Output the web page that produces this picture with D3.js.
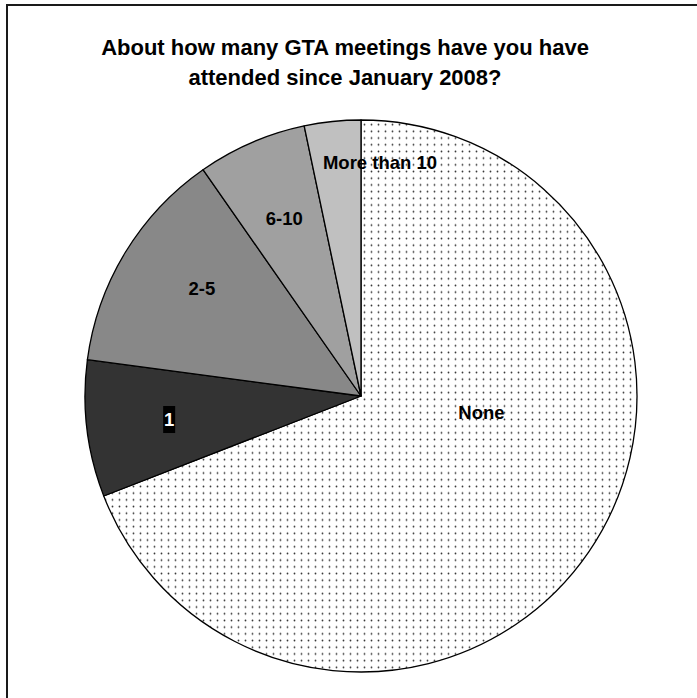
<!DOCTYPE html>
<html>
<head>
<meta charset="utf-8">
<script src="https://cdn.jsdelivr.net/npm/d3@7"></script>
<style>
  body { margin: 0; background: #fff; }
  text { font-family: "Liberation Sans", Arial, sans-serif; font-weight: bold; }
</style>
</head>
<body>
<div id="root"></div>
<script>
const width = 697;
const height = 698;

// data (percent of respondents)
const categories = ['None', '1', '2-5', '6-10', 'More than 10'];
const shares = [69.1, 8.0, 13.2, 6.4, 3.3];
const fills = ['url(#dots)', '#333333', '#888888', '#a0a0a0', '#c0c0c0'];
const titleLines = ['About how many GTA meetings have you have', 'attended since January 2008?'];

// layout
const cx = 361, cy = 396, radius = 276;
const labelRadius = radius * 0.7;
// labels Excel pushed away from the centroid (px offset from centroid)
const labelShift = { 'None': [-39, -93], 'More than 10': [39, -42], '2-5': [6, -7] };

const svg = d3.select("#root")
	.append("svg")
		.attr("width", width)
		.attr("height", height);

// dotted fill for the big slice
svg.append("defs")
	.append("pattern")
		.attr("id", "dots")
		.attr("patternUnits", "userSpaceOnUse")
		.attr("width", 7)
		.attr("height", 6.7)
	.call(p => {
		p.append("rect").attr("width", 7).attr("height", 6.7).attr("fill", "#fff");
		p.append("circle").attr("cx", 3.5).attr("cy", 3.3).attr("r", 0.9).attr("fill", "#333");
	});

// chart border (runs off the right and bottom edges)
svg.append("rect")
	.attr("x", 7)
	.attr("y", 5)
	.attr("width", width + 20)
	.attr("height", height + 20)
	.attr("fill", "none")
	.attr("stroke", "#1a1a1a")
	.attr("stroke-width", 2);

svg.append("text")
	.attr("text-anchor", "middle")
	.style("font-size", "22px")
	.style("fill", "#000")
	.selectAll("tspan")
	.data(titleLines).enter()
		.append("tspan")
		.attr("x", 345)
		.attr("y", (d, i) => 55 + i * 30)
		.text(d => d);

const data = categories.map((c, i) => ({ name: c, value: shares[i], fill: fills[i] }));

const pie = d3.pie()
	.sort(null)
	.value(d => d.value);

const arc = d3.arc()
	.innerRadius(0)
	.outerRadius(radius);

const labelArc = d3.arc()
	.innerRadius(labelRadius)
	.outerRadius(labelRadius);

const g = svg.append("g")
	.attr("transform", `translate(${cx}, ${cy})`);

const arcs = pie(data);

g.selectAll(".slice")
	.data(arcs).enter()
	.append("path")
		.attr("class", "slice")
		.attr("d", arc)
		.attr("fill", d => d.data.fill)
		.attr("stroke", "#000")
		.attr("stroke-width", 1.3)
		.attr("stroke-linejoin", "round");

const labels = g.selectAll(".label")
	.data(arcs).enter()
	.append("g")
		.attr("class", "label")
		.attr("transform", d => {
			const [x, y] = labelArc.centroid(d);
			const s = labelShift[d.data.name] || [0, 0];
			return `translate(${x + s[0]}, ${y + s[1]})`;
		});

// the dark slice gets a black box behind white text
labels.filter(d => d.data.name === '1')
	.append("rect")
		.attr("x", -6)
		.attr("y", -13)
		.attr("width", 12)
		.attr("height", 27)
		.attr("fill", "#000");

labels.append("text")
	.attr("text-anchor", "middle")
	.attr("dy", "0.36em")
	.style("font-size", "18.5px")
	.style("fill", d => d.data.name === '1' ? "#fff" : "#000")
	.text(d => d.data.name);
</script>
</body>
</html>
